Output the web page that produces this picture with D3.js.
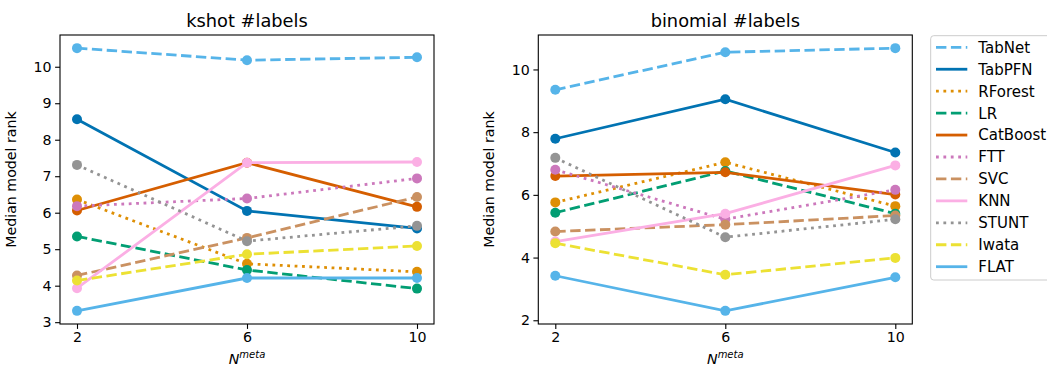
<!DOCTYPE html>
<html>
<head>
<meta charset="utf-8">
<script src="https://cdn.jsdelivr.net/npm/d3@7"></script>
<style>
  body { margin: 0; background: #fff; }
  svg { font-family: "DejaVu Sans", sans-serif; }
</style>
</head>
<body>
<svg id="chart" width="1047" height="366"></svg>
<script>
// x positions (N meta)
const xValues = [2, 6, 10];
const models = ['TabNet', 'TabPFN', 'RForest', 'LR', 'CatBoost', 'FTT', 'SVC', 'KNN', 'STUNT', 'Iwata', 'FLAT'];

// median rank per model, kshot panel
const kshotTabNet   = [10.51, 10.18, 10.26];
const kshotTabPFN   = [8.56, 6.05, 5.57];
const kshotRForest  = [6.36, 4.60, 4.38];
const kshotLR       = [5.35, 4.43, 3.92];
const kshotCatBoost = [6.06, 7.37, 6.16];
const kshotFTT      = [6.18, 6.39, 6.94];
const kshotSVC      = [4.28, 5.31, 6.43];
const kshotKNN      = [3.93, 7.37, 7.39];
const kshotSTUNT    = [7.31, 5.22, 5.64];
const kshotIwata    = [4.14, 4.86, 5.09];
const kshotFLAT     = [3.31, 4.21, 4.21];

// median rank per model, binomial panel
const binomTabNet   = [9.35, 10.55, 10.68];
const binomTabPFN   = [7.79, 9.05, 7.35];
const binomRForest  = [5.76, 7.04, 5.64];
const binomLR       = [5.43, 6.76, 5.40];
const binomCatBoost = [6.60, 6.72, 6.01];
const binomFTT      = [6.80, 5.22, 6.16];
const binomSVC      = [4.83, 5.05, 5.34];
const binomKNN      = [4.51, 5.40, 6.94];
const binomSTUNT    = [7.18, 4.65, 5.22];
const binomIwata    = [4.46, 3.45, 3.99];
const binomFLAT     = [3.42, 2.30, 3.37];

const kshotTicks = [3, 4, 5, 6, 7, 8, 9, 10];
const binomTicks = [2, 4, 6, 8, 10];

// style per model (seaborn colorblind)
const styles = {
  TabNet:   { color: '#56B4E9', dash: 'dashed' },
  TabPFN:   { color: '#0173B2', dash: 'solid' },
  RForest:  { color: '#DE8F05', dash: 'dotted' },
  LR:       { color: '#029E73', dash: 'dashed' },
  CatBoost: { color: '#D55E00', dash: 'solid' },
  FTT:      { color: '#CC78BC', dash: 'dotted' },
  SVC:      { color: '#CA9161', dash: 'dashed' },
  KNN:      { color: '#FBAFE4', dash: 'solid' },
  STUNT:    { color: '#949494', dash: 'dotted' },
  Iwata:    { color: '#ECE133', dash: 'dashed' },
  FLAT:     { color: '#56B4E9', dash: 'solid' }
};
const LW = 2.8;
const DASH = { solid: null, dashed: '10.4,4.5', dotted: '2.8,4.6' };

const panels = [
  { title: 'kshot #labels', left: 60, ticks: kshotTicks,
    series: [kshotTabNet, kshotTabPFN, kshotRForest, kshotLR, kshotCatBoost, kshotFTT, kshotSVC, kshotKNN, kshotSTUNT, kshotIwata, kshotFLAT] },
  { title: 'binomial #labels', left: 538.3, ticks: binomTicks,
    series: [binomTabNet, binomTabPFN, binomRForest, binomLR, binomCatBoost, binomFTT, binomSVC, binomKNN, binomSTUNT, binomIwata, binomFLAT] }
];

const svg = d3.select('#chart');
const plotTop = 35, plotBottom = 324, plotW = 374;
const FS = 14.2;

function padded(lo, hi) {
  const m = (hi - lo) * 0.05;
  return [lo - m, hi + m];
}

panels.forEach(p => {
  const all = p.series.flat();
  const x = d3.scaleLinear().domain(padded(2, 10)).range([p.left, p.left + plotW]);
  const y = d3.scaleLinear().domain(padded(d3.min(all), d3.max(all))).range([plotBottom, plotTop]);

  const g = svg.append('g');

  // axes
  const yAxis = g.append('g')
    .attr('transform', `translate(${p.left},0)`)
    .call(d3.axisLeft(y).tickValues(p.ticks).tickSize(4.9).tickPadding(3.5).tickFormat(d3.format('d')));
  const xAxis = g.append('g')
    .attr('transform', `translate(0,${plotBottom})`)
    .call(d3.axisBottom(x).tickValues(xValues).tickSize(4.9).tickPadding(3.5).tickFormat(d3.format('d')));
  [yAxis, xAxis].forEach(a => {
    a.select('.domain').remove();
    a.selectAll('.tick line').attr('stroke', '#000').attr('stroke-width', 1.1);
    a.selectAll('.tick text').attr('fill', '#000').style('font-size', FS + 'px').style('font-family', 'DejaVu Sans');
  });

  // lines + markers
  const line = d3.line().x((d, i) => x(xValues[i])).y(d => y(d));
  p.series.forEach((vals, k) => {
    const st = styles[models[k]];
    g.append('path')
      .datum(vals)
      .attr('d', line)
      .attr('fill', 'none')
      .attr('stroke', st.color)
      .attr('stroke-width', LW)
      .attr('stroke-dasharray', DASH[st.dash]);
    g.selectAll(null)
      .data(vals)
      .enter()
      .append('circle')
      .attr('cx', (d, i) => x(xValues[i]))
      .attr('cy', d => y(d))
      .attr('r', 5)
      .attr('fill', st.color);
  });

  // frame
  g.append('rect')
    .attr('x', p.left).attr('y', plotTop)
    .attr('width', plotW).attr('height', plotBottom - plotTop)
    .attr('fill', 'none').attr('stroke', '#000').attr('stroke-width', 1.1);

  const cx = p.left + plotW / 2;
  g.append('text')
    .attr('x', cx).attr('y', 27)
    .attr('text-anchor', 'middle')
    .style('font-size', '17.8px')
    .text(p.title);

  // y label
  g.append('text')
    .attr('transform', `translate(${p.left - 44},${(plotTop + plotBottom) / 2}) rotate(-90)`)
    .attr('text-anchor', 'middle')
    .style('font-size', FS + 'px')
    .text('Median model rank');

  // x label N^meta
  const xl = g.append('text')
    .attr('x', cx).attr('y', 364)
    .attr('text-anchor', 'middle')
    .style('font-size', FS + 'px')
    .style('font-style', 'italic');
  xl.append('tspan').text('N');
  xl.append('tspan').attr('dy', -6).style('font-size', '10px').text('meta');
});

// legend
const lg = svg.append('g').attr('transform', 'translate(930.7,35.7)');
lg.append('rect')
  .attr('width', 130).attr('height', 244.3)
  .attr('rx', 3)
  .attr('fill', '#fff').attr('fill-opacity', 0.8)
  .attr('stroke', '#ccc').attr('stroke-width', 1);
models.forEach((m, i) => {
  const st = styles[m];
  const yy = 11.6 + i * 21.94;
  lg.append('line')
    .attr('x1', 5.3).attr('x2', 36.6)
    .attr('y1', yy).attr('y2', yy)
    .attr('stroke', st.color).attr('stroke-width', LW)
    .attr('stroke-dasharray', DASH[st.dash]);
  lg.append('text')
    .attr('x', 47.6).attr('y', yy)
    .attr('dy', '0.36em')
    .style('font-size', '15px')
    .text(m);
});
</script>
</body>
</html>
